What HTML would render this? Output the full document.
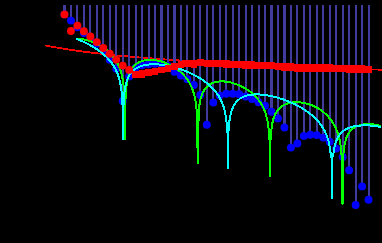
<!DOCTYPE html>
<html><head><meta charset="utf-8"><title>plot</title><style>html,body{margin:0;padding:0;background:#000;font-family:"Liberation Sans",sans-serif;}svg{display:block}</style></head><body><svg width="382" height="243" viewBox="0 0 382 243" shape-rendering="crispEdges">
<rect width="382" height="243" fill="#000"/>
<polyline fill="none" stroke="#ff0000" stroke-width="1.8" points="44.80,45.30 46.80,45.71 48.80,46.12 50.80,46.50 52.80,46.88 54.80,47.25 56.80,47.61 58.80,47.96 60.80,48.30 62.80,48.63 64.80,48.95 66.80,49.26 68.80,49.57 70.80,49.87 72.80,50.17 74.80,50.45 76.80,50.74 78.80,51.01 80.80,51.28 82.80,51.55 84.80,51.81 86.80,52.06 88.80,52.31 90.80,52.55 92.80,52.79 94.80,53.03 96.80,53.26 98.80,53.49 100.80,53.71 102.80,53.94 104.80,54.15 106.80,54.37 108.80,54.58 110.80,54.78 112.80,54.99 114.80,55.19 116.80,55.38 118.80,55.58 120.80,55.77 122.80,55.96 124.80,56.14 126.80,56.33 128.80,56.51 130.80,56.69 132.80,56.86 134.80,57.04 136.80,57.21 138.80,57.38 140.80,57.55 142.80,57.71 144.80,57.87 146.80,58.04 148.80,58.19 150.80,58.35 152.80,58.51 154.80,58.66 156.80,58.81 158.80,58.96 160.80,59.11 162.80,59.26 164.80,59.40 166.80,59.55 168.80,59.69 170.80,59.83 172.80,59.97 174.80,60.11 176.80,60.24 178.80,60.38 180.80,60.51 182.80,60.64 184.80,60.77 186.80,60.90 188.80,61.03 190.80,61.16 192.80,61.28 194.80,61.41 196.80,61.53 198.80,61.66 200.80,61.78 202.80,61.90 204.80,62.02 206.80,62.13 208.80,62.25 210.80,62.37 212.80,62.48 214.80,62.59 216.80,62.71 218.80,62.82 220.80,62.93 222.80,63.04 224.80,63.15 226.80,63.26 228.80,63.37 230.80,63.47 232.80,63.58 234.80,63.68 236.80,63.79 238.80,63.89 240.80,63.99 242.80,64.09 244.80,64.19 246.80,64.30 248.80,64.39 250.80,64.49 252.80,64.59 254.80,64.69 256.80,64.78 258.80,64.88 260.80,64.98 262.80,65.07 264.80,65.16 266.80,65.26 268.80,65.35 270.80,65.44 272.80,65.53 274.80,65.62 276.80,65.71 278.80,65.80 280.80,65.89 282.80,65.98 284.80,66.07 286.80,66.15 288.80,66.24 290.80,66.32 292.80,66.41 294.80,66.49 296.80,66.58 298.80,66.66 300.80,66.74 302.80,66.83 304.80,66.91 306.80,66.99 308.80,67.07 310.80,67.15 312.80,67.23 314.80,67.31 316.80,67.39 318.80,67.47 320.80,67.55 322.80,67.63 324.80,67.70 326.80,67.78 328.80,67.86 330.80,67.93 332.80,68.01 334.80,68.08 336.80,68.16 338.80,68.23 340.80,68.31 342.80,68.38 344.80,68.45 346.80,68.52 348.80,68.60 350.80,68.67 352.80,68.74 354.80,68.81 356.80,68.88 358.80,68.95 360.80,69.02 362.80,69.09 364.80,69.16 366.80,69.23 368.80,69.30 370.80,69.37 372.80,69.43 374.80,69.50 376.80,69.57 378.80,69.63 380.80,69.70 383.00,69.77"/>
<g fill="#423b9e">
<rect x="63" y="5" width="3" height="9"/>
<rect x="70" y="5" width="2" height="16"/>
<rect x="76" y="5" width="2" height="22"/>
<rect x="83" y="5" width="2" height="28"/>
<rect x="89" y="5" width="2" height="33"/>
<rect x="96" y="5" width="2" height="39"/>
<rect x="102" y="5" width="2" height="45"/>
<rect x="109" y="5" width="2" height="55"/>
<rect x="115" y="5" width="2" height="64"/>
<rect x="122" y="5" width="2" height="96"/>
<rect x="128" y="5" width="2" height="71"/>
<rect x="135" y="5" width="2" height="63"/>
<rect x="141" y="5" width="2" height="60"/>
<rect x="148" y="5" width="2" height="59"/>
<rect x="154" y="5" width="2" height="59"/>
<rect x="160" y="5" width="3" height="59"/>
<rect x="167" y="5" width="2" height="61"/>
<rect x="173" y="5" width="3" height="67"/>
<rect x="180" y="5" width="2" height="71"/>
<rect x="186" y="5" width="2" height="74"/>
<rect x="193" y="5" width="2" height="80"/>
<rect x="199" y="5" width="2" height="90"/>
<rect x="206" y="5" width="2" height="120"/>
<rect x="212" y="5" width="2" height="97"/>
<rect x="219" y="5" width="2" height="91"/>
<rect x="225" y="5" width="2" height="89"/>
<rect x="232" y="5" width="2" height="89"/>
<rect x="238" y="5" width="2" height="89"/>
<rect x="245" y="5" width="2" height="91"/>
<rect x="251" y="5" width="2" height="94"/>
<rect x="258" y="5" width="2" height="97"/>
<rect x="264" y="5" width="2" height="101"/>
<rect x="270" y="5" width="3" height="107"/>
<rect x="277" y="5" width="2" height="113"/>
<rect x="283" y="5" width="3" height="123"/>
<rect x="290" y="5" width="2" height="143"/>
<rect x="296" y="5" width="2" height="139"/>
<rect x="303" y="5" width="2" height="131"/>
<rect x="309" y="5" width="2" height="130"/>
<rect x="316" y="5" width="2" height="130"/>
<rect x="322" y="5" width="2" height="133"/>
<rect x="329" y="5" width="2" height="137"/>
<rect x="335" y="5" width="2" height="144"/>
<rect x="342" y="5" width="2" height="152"/>
<rect x="348" y="5" width="2" height="165"/>
<rect x="355" y="5" width="2" height="200"/>
<rect x="361" y="5" width="2" height="181"/>
<rect x="368" y="5" width="2" height="195"/>
</g>
<g fill="#0000ff" shape-rendering="geometricPrecision">
<circle cx="64.47" cy="14.40" r="3.95"/>
<circle cx="70.94" cy="20.60" r="3.95"/>
<circle cx="77.41" cy="27.20" r="3.95"/>
<circle cx="83.88" cy="33.00" r="3.95"/>
<circle cx="90.35" cy="38.20" r="3.95"/>
<circle cx="96.82" cy="43.80" r="3.95"/>
<circle cx="103.29" cy="50.20" r="3.95"/>
<circle cx="109.76" cy="59.70" r="3.95"/>
<circle cx="116.23" cy="68.80" r="3.95"/>
<circle cx="122.70" cy="100.90" r="3.95"/>
<circle cx="129.17" cy="76.50" r="3.95"/>
<circle cx="135.64" cy="67.80" r="3.95"/>
<circle cx="142.11" cy="65.20" r="3.95"/>
<circle cx="148.58" cy="64.20" r="3.95"/>
<circle cx="155.05" cy="63.80" r="3.95"/>
<circle cx="161.52" cy="64.30" r="3.95"/>
<circle cx="167.99" cy="66.00" r="3.95"/>
<circle cx="174.46" cy="71.70" r="3.95"/>
<circle cx="180.93" cy="75.50" r="3.95"/>
<circle cx="187.40" cy="79.30" r="3.95"/>
<circle cx="193.87" cy="84.90" r="3.95"/>
<circle cx="200.34" cy="95.00" r="3.95"/>
<circle cx="206.81" cy="124.80" r="3.95"/>
<circle cx="213.28" cy="102.50" r="3.95"/>
<circle cx="219.75" cy="95.60" r="3.95"/>
<circle cx="226.22" cy="93.70" r="3.95"/>
<circle cx="232.69" cy="93.70" r="3.95"/>
<circle cx="239.16" cy="94.30" r="3.95"/>
<circle cx="245.63" cy="96.50" r="3.95"/>
<circle cx="252.10" cy="99.00" r="3.95"/>
<circle cx="258.57" cy="102.30" r="3.95"/>
<circle cx="265.04" cy="105.70" r="3.95"/>
<circle cx="271.51" cy="111.80" r="3.95"/>
<circle cx="277.98" cy="118.40" r="3.95"/>
<circle cx="284.45" cy="127.50" r="3.95"/>
<circle cx="290.92" cy="147.60" r="3.95"/>
<circle cx="297.39" cy="143.50" r="3.95"/>
<circle cx="303.86" cy="135.90" r="3.95"/>
<circle cx="310.33" cy="134.70" r="3.95"/>
<circle cx="316.80" cy="135.10" r="3.95"/>
<circle cx="323.27" cy="137.60" r="3.95"/>
<circle cx="329.74" cy="141.80" r="3.95"/>
<circle cx="336.21" cy="148.60" r="3.95"/>
<circle cx="342.68" cy="157.00" r="3.95"/>
<circle cx="349.15" cy="170.30" r="3.95"/>
<circle cx="355.62" cy="205.00" r="3.95"/>
<circle cx="362.09" cy="186.40" r="3.95"/>
<circle cx="368.56" cy="199.75" r="3.95"/>
</g>
<polyline fill="none" stroke="#00ff00" stroke-width="2" stroke-linejoin="round" points="76.00,38.97 76.25,38.96 76.50,38.95 76.75,38.95 77.00,38.94 77.25,38.94 77.50,38.94 77.75,38.94 78.00,38.94 78.25,38.95 78.50,38.96 78.75,38.97 79.00,38.98 79.25,38.99 79.50,39.00 79.75,39.02 80.00,39.04 80.25,39.06 80.50,39.08 80.75,39.10 81.00,39.13 81.25,39.15 81.50,39.18 81.75,39.21 82.00,39.24 82.25,39.27 82.50,39.30 82.75,39.34 83.00,39.38 83.25,39.42 83.50,39.46 83.75,39.50 84.00,39.54 84.25,39.59 84.50,39.63 84.75,39.68 85.00,39.73 85.25,39.78 85.50,39.83 85.75,39.89 86.00,39.94 86.25,40.00 86.50,40.06 86.75,40.11 87.00,40.18 87.25,40.24 87.50,40.30 87.75,40.37 88.00,40.43 88.25,40.50 88.50,40.57 88.75,40.64 89.00,40.72 89.25,40.79 89.50,40.87 89.75,40.94 90.00,41.02 90.25,41.10 90.50,41.18 90.75,41.27 91.00,41.35 91.25,41.44 91.50,41.53 91.75,41.61 92.00,41.70 92.25,41.80 92.50,41.89 92.75,41.98 93.00,42.08 93.25,42.18 93.50,42.28 93.75,42.38 94.00,42.48 94.25,42.59 94.50,42.69 94.75,42.80 95.00,42.91 95.25,43.02 95.50,43.13 95.75,43.24 96.00,43.36 96.25,43.47 96.50,43.59 96.75,43.71 97.00,43.83 97.25,43.96 97.50,44.08 97.75,44.21 98.00,44.34 98.25,44.47 98.50,44.60 98.75,44.73 99.00,44.87 99.25,45.01 99.50,45.14 99.75,45.29 100.00,45.43 100.25,45.58 100.50,45.73 100.75,45.88 101.00,46.03 101.25,46.19 101.50,46.34 101.75,46.50 102.00,46.67 102.25,46.83 102.50,46.99 102.75,47.16 103.00,47.33 103.25,47.51 103.50,47.68 103.75,47.86 104.00,48.04 104.25,48.22 104.50,48.40 104.75,48.59 105.00,48.78 105.25,48.97 105.50,49.16 105.75,49.36 106.00,49.56 106.25,49.76 106.50,49.96 106.75,50.17 107.00,50.38 107.25,50.60 107.50,50.81 107.75,51.03 108.00,51.25 108.25,51.48 108.50,51.71 108.75,51.94 109.00,52.18 109.25,52.42 109.50,52.66 109.75,52.91 110.00,53.16 110.25,53.41 110.50,53.67 110.75,53.94 111.00,54.21 111.25,54.48 111.50,54.75 111.75,55.04 112.00,55.32 112.25,55.62 112.50,55.91 112.75,56.22 113.00,56.52 113.25,56.84 113.50,57.16 113.75,57.49 114.00,57.82 114.25,58.16 114.50,58.51 114.75,58.86 115.00,59.23 115.25,59.60 115.50,59.98 115.75,60.37 116.00,60.77 116.25,61.18 116.50,61.60 116.75,62.03 117.00,62.47 117.25,62.93 117.50,63.40 117.75,63.88 118.00,64.38 118.25,64.90 118.50,65.43 118.75,65.99 119.00,66.56 119.25,67.15 119.50,67.77 119.75,68.42 120.00,69.09 120.25,69.80 120.50,70.54 120.75,71.32 121.00,72.15 121.25,73.02 121.50,73.95 121.75,74.95 122.00,76.01 122.25,77.17 122.50,78.43 122.75,79.82 123.00,81.36 123.25,83.10 123.50,85.10 123.75,87.45 124.00,90.31 124.25,93.98 124.50,99.13 125.00,139.50 125.50,99.41 125.75,94.42 126.00,90.89 126.25,88.17 126.50,85.97 126.75,84.11 127.00,82.52 127.25,81.12 127.50,79.87 127.75,78.76 128.00,77.74 128.25,76.82 128.50,75.97 128.75,75.18 129.00,74.45 129.25,73.77 129.50,73.14 129.75,72.54 130.00,71.98 130.25,71.44 130.50,70.94 130.75,70.47 131.00,70.02 131.25,69.59 131.50,69.18 131.75,68.79 132.00,68.42 132.25,68.06 132.50,67.72 132.75,67.40 133.00,67.08 133.25,66.78 133.50,66.50 133.75,66.22 134.00,65.96 134.25,65.70 134.50,65.45 134.75,65.22 135.00,64.99 135.25,64.77 135.50,64.56 135.75,64.36 136.00,64.16 136.25,63.97 136.50,63.79 136.75,63.61 137.00,63.44 137.25,63.28 137.50,63.12 137.75,62.96 138.00,62.82 138.25,62.67 138.50,62.54 138.75,62.40 139.00,62.27 139.25,62.15 139.50,62.03 139.75,61.92 140.00,61.80 140.25,61.70 140.50,61.59 140.75,61.50 141.00,61.40 141.25,61.31 141.50,61.22 141.75,61.13 142.00,61.05 142.25,60.97 142.50,60.90 142.75,60.83 143.00,60.76 143.25,60.69 143.50,60.63 143.75,60.57 144.00,60.51 144.25,60.45 144.50,60.40 144.75,60.35 145.00,60.30 145.25,60.26 145.50,60.22 145.75,60.18 146.00,60.14 146.25,60.10 146.50,60.07 146.75,60.04 147.00,60.01 147.25,59.99 147.50,59.96 147.75,59.94 148.00,59.92 148.25,59.90 148.50,59.89 148.75,59.87 149.00,59.86 149.25,59.85 149.50,59.85 149.75,59.84 150.00,59.84 150.25,59.83 150.50,59.83 150.75,59.84 151.00,59.84 151.25,59.85 151.50,59.85 151.75,59.86 152.00,59.87 152.25,59.88 152.50,59.90 152.75,59.91 153.00,59.93 153.25,59.95 153.50,59.97 153.75,59.99 154.00,60.02 154.25,60.04 154.50,60.07 154.75,60.10 155.00,60.13 155.25,60.16 155.50,60.20 155.75,60.23 156.00,60.27 156.25,60.31 156.50,60.35 156.75,60.39 157.00,60.43 157.25,60.48 157.50,60.52 157.75,60.57 158.00,60.62 158.25,60.67 158.50,60.72 158.75,60.77 159.00,60.83 159.25,60.88 159.50,60.94 159.75,61.00 160.00,61.06 160.25,61.13 160.50,61.20 160.75,61.27 161.00,61.34 161.25,61.41 161.50,61.48 161.75,61.56 162.00,61.63 162.25,61.71 162.50,61.79 162.75,61.87 163.00,61.96 163.25,62.04 163.50,62.12 163.75,62.21 164.00,62.30 164.25,62.39 164.50,62.48 164.75,62.57 165.00,62.67 165.25,62.76 165.50,62.86 165.75,62.96 166.00,63.06 166.25,63.16 166.50,63.27 166.75,63.37 167.00,63.48 167.25,63.59 167.50,63.70 167.75,63.81 168.00,63.92 168.25,64.03 168.50,64.15 168.75,64.27 169.00,64.39 169.25,64.51 169.50,64.63 169.75,64.75 170.00,64.88 170.25,65.01 170.50,65.14 170.75,65.27 171.00,65.40 171.25,65.53 171.50,65.67 171.75,65.81 172.00,65.95 172.25,66.09 172.50,66.23 172.75,66.38 173.00,66.52 173.25,66.67 173.50,66.82 173.75,66.98 174.00,67.13 174.25,67.29 174.50,67.45 174.75,67.61 175.00,67.77 175.25,67.94 175.50,68.10 175.75,68.27 176.00,68.44 176.25,68.62 176.50,68.79 176.75,68.97 177.00,69.15 177.25,69.34 177.50,69.52 177.75,69.71 178.00,69.90 178.25,70.09 178.50,70.29 178.75,70.49 179.00,70.69 179.25,70.89 179.50,71.10 179.75,71.31 180.00,71.52 180.25,71.74 180.50,71.96 180.75,72.18 181.00,72.41 181.25,72.64 181.50,72.87 181.75,73.10 182.00,73.34 182.25,73.59 182.50,73.83 182.75,74.08 183.00,74.34 183.25,74.60 183.50,74.86 183.75,75.13 184.00,75.40 184.25,75.68 184.50,75.96 184.75,76.24 185.00,76.54 185.25,76.83 185.50,77.14 185.75,77.44 186.00,77.76 186.25,78.08 186.50,78.41 186.75,78.74 187.00,79.08 187.25,79.43 187.50,79.79 187.75,80.15 188.00,80.52 188.25,80.90 188.50,81.29 188.75,81.69 189.00,82.10 189.25,82.53 189.50,82.96 189.75,83.40 190.00,83.86 190.25,84.33 190.50,84.82 190.75,85.32 191.00,85.84 191.25,86.37 191.50,86.93 191.75,87.51 192.00,88.10 192.25,88.73 192.50,89.38 192.75,90.06 193.00,90.77 193.25,91.52 193.50,92.31 193.75,93.14 194.00,94.02 194.25,94.96 194.50,95.97 194.75,97.06 195.00,98.23 195.25,99.51 195.50,100.93 195.75,102.51 196.00,104.29 196.25,106.35 196.50,108.79 196.75,111.78 197.55,150.00 197.55,163.50 197.85,163.50 197.85,150.00 198.75,111.05 199.00,108.45 199.25,106.33 199.50,104.54 199.75,102.99 200.00,101.63 200.25,100.42 200.50,99.34 200.75,98.35 201.00,97.45 201.25,96.62 201.50,95.86 201.75,95.15 202.00,94.48 202.25,93.86 202.50,93.28 202.75,92.74 203.00,92.22 203.25,91.73 203.50,91.27 203.75,90.83 204.00,90.42 204.25,90.02 204.50,89.64 204.75,89.28 205.00,88.94 205.25,88.61 205.50,88.30 205.75,88.00 206.00,87.71 206.25,87.43 206.50,87.17 206.75,86.91 207.00,86.67 207.25,86.43 207.50,86.21 207.75,85.99 208.00,85.78 208.25,85.58 208.50,85.38 208.75,85.20 209.00,85.02 209.25,84.85 209.50,84.68 209.75,84.52 210.00,84.36 210.25,84.22 210.50,84.07 210.75,83.93 211.00,83.80 211.25,83.67 211.50,83.55 211.75,83.43 212.00,83.32 212.25,83.21 212.50,83.10 212.75,83.00 213.00,82.90 213.25,82.81 213.50,82.72 213.75,82.63 214.00,82.55 214.25,82.47 214.50,82.40 214.75,82.33 215.00,82.26 215.25,82.19 215.50,82.13 215.75,82.07 216.00,82.01 216.25,81.96 216.50,81.91 216.75,81.86 217.00,81.81 217.25,81.77 217.50,81.73 217.75,81.69 218.00,81.66 218.25,81.62 218.50,81.59 218.75,81.57 219.00,81.54 219.25,81.52 219.50,81.50 219.75,81.48 220.00,81.46 220.25,81.45 220.50,81.43 220.75,81.42 221.00,81.42 221.25,81.41 221.50,81.41 221.75,81.40 222.00,81.40 222.25,81.41 222.50,81.41 222.75,81.42 223.00,81.42 223.25,81.43 223.50,81.44 223.75,81.46 224.00,81.47 224.25,81.49 224.50,81.51 224.75,81.53 225.00,81.55 225.25,81.57 225.50,81.60 225.75,81.63 226.00,81.65 226.25,81.68 226.50,81.72 226.75,81.75 227.00,81.79 227.25,81.82 227.50,81.86 227.75,81.90 228.00,81.94 228.25,81.99 228.50,82.03 228.75,82.08 229.00,82.13 229.25,82.18 229.50,82.23 229.75,82.28 230.00,82.33 230.25,82.39 230.50,82.45 230.75,82.50 231.00,82.56 231.25,82.63 231.50,82.69 231.75,82.75 232.00,82.82 232.25,82.89 232.50,82.96 232.75,83.03 233.00,83.10 233.25,83.17 233.50,83.25 233.75,83.32 234.00,83.40 234.25,83.48 234.50,83.56 234.75,83.65 235.00,83.73 235.25,83.81 235.50,83.90 235.75,83.99 236.00,84.08 236.25,84.17 236.50,84.26 236.75,84.36 237.00,84.45 237.25,84.55 237.50,84.65 237.75,84.75 238.00,84.85 238.25,84.96 238.50,85.06 238.75,85.17 239.00,85.27 239.25,85.38 239.50,85.49 239.75,85.61 240.00,85.72 240.25,85.83 240.50,85.95 240.75,86.06 241.00,86.17 241.25,86.29 241.50,86.41 241.75,86.53 242.00,86.65 242.25,86.78 242.50,86.90 242.75,87.03 243.00,87.16 243.25,87.29 243.50,87.42 243.75,87.56 244.00,87.69 244.25,87.83 244.50,87.97 244.75,88.11 245.00,88.26 245.25,88.40 245.50,88.55 245.75,88.70 246.00,88.85 246.25,89.00 246.50,89.16 246.75,89.32 247.00,89.47 247.25,89.64 247.50,89.80 247.75,89.96 248.00,90.13 248.25,90.30 248.50,90.47 248.75,90.65 249.00,90.83 249.25,91.01 249.50,91.19 249.75,91.37 250.00,91.56 250.25,91.75 250.50,91.94 250.75,92.13 251.00,92.33 251.25,92.53 251.50,92.73 251.75,92.94 252.00,93.14 252.25,93.36 252.50,93.57 252.75,93.79 253.00,94.01 253.25,94.23 253.50,94.46 253.75,94.69 254.00,94.92 254.25,95.16 254.50,95.40 254.75,95.65 255.00,95.89 255.25,96.15 255.50,96.40 255.75,96.67 256.00,96.93 256.25,97.20 256.50,97.48 256.75,97.76 257.00,98.04 257.25,98.33 257.50,98.63 257.75,98.93 258.00,99.23 258.25,99.55 258.50,99.86 258.75,100.19 259.00,100.52 259.25,100.86 259.50,101.20 259.75,101.56 260.00,101.92 260.25,102.29 260.50,102.67 260.75,103.06 261.00,103.45 261.25,103.86 261.50,104.28 261.75,104.71 262.00,105.15 262.25,105.60 262.50,106.07 262.75,106.55 263.00,107.05 263.25,107.56 263.50,108.10 263.75,108.65 264.00,109.22 264.25,109.81 264.50,110.43 264.75,111.07 265.00,111.75 265.25,112.45 265.50,113.19 265.75,113.97 266.00,114.79 266.25,115.66 266.50,116.59 266.75,117.58 267.00,118.65 267.25,119.81 267.50,121.07 267.75,122.45 268.00,123.99 268.25,125.73 268.50,127.73 269.85,144.00 269.85,176.00 270.15,176.00 270.15,144.00 271.75,126.77 272.00,125.18 272.25,123.78 272.50,122.54 272.75,121.43 273.00,120.42 273.25,119.50 273.50,118.65 273.75,117.87 274.00,117.14 274.25,116.47 274.50,115.83 274.75,115.24 275.00,114.68 275.25,114.15 275.50,113.66 275.75,113.18 276.00,112.74 276.25,112.31 276.50,111.91 276.75,111.52 277.00,111.15 277.25,110.80 277.50,110.46 277.75,110.14 278.00,109.83 278.25,109.54 278.50,109.25 278.75,108.98 279.00,108.72 279.25,108.47 279.50,108.23 279.75,107.99 280.00,107.77 280.25,107.55 280.50,107.33 280.75,107.12 281.00,106.91 281.25,106.72 281.50,106.53 281.75,106.35 282.00,106.17 282.25,106.00 282.50,105.83 282.75,105.67 283.00,105.52 283.25,105.37 283.50,105.23 283.75,105.09 284.00,104.95 284.25,104.82 284.50,104.70 284.75,104.58 285.00,104.46 285.25,104.34 285.50,104.24 285.75,104.13 286.00,104.03 286.25,103.93 286.50,103.83 286.75,103.74 287.00,103.66 287.25,103.57 287.50,103.49 287.75,103.41 288.00,103.33 288.25,103.26 288.50,103.19 288.75,103.13 289.00,103.06 289.25,103.00 289.50,102.94 289.75,102.89 290.00,102.83 290.25,102.78 290.50,102.73 290.75,102.69 291.00,102.64 291.25,102.60 291.50,102.56 291.75,102.53 292.00,102.49 292.25,102.46 292.50,102.43 292.75,102.40 293.00,102.38 293.25,102.35 293.50,102.33 293.75,102.31 294.00,102.29 294.25,102.28 294.50,102.26 294.75,102.25 295.00,102.24 295.25,102.24 295.50,102.23 295.75,102.22 296.00,102.22 296.25,102.22 296.50,102.22 296.75,102.23 297.00,102.23 297.25,102.24 297.50,102.25 297.75,102.26 298.00,102.27 298.25,102.28 298.50,102.29 298.75,102.31 299.00,102.33 299.25,102.35 299.50,102.37 299.75,102.39 300.00,102.42 300.25,102.44 300.50,102.47 300.75,102.50 301.00,102.53 301.25,102.56 301.50,102.60 301.75,102.63 302.00,102.67 302.25,102.71 302.50,102.75 302.75,102.79 303.00,102.83 303.25,102.88 303.50,102.92 303.75,102.97 304.00,103.02 304.25,103.07 304.50,103.12 304.75,103.18 305.00,103.23 305.25,103.29 305.50,103.35 305.75,103.41 306.00,103.47 306.25,103.53 306.50,103.59 306.75,103.66 307.00,103.72 307.25,103.79 307.50,103.86 307.75,103.93 308.00,104.01 308.25,104.08 308.50,104.16 308.75,104.23 309.00,104.31 309.25,104.39 309.50,104.47 309.75,104.56 310.00,104.64 310.25,104.73 310.50,104.81 310.75,104.90 311.00,104.99 311.25,105.09 311.50,105.18 311.75,105.28 312.00,105.37 312.25,105.47 312.50,105.57 312.75,105.67 313.00,105.78 313.25,105.88 313.50,105.99 313.75,106.09 314.00,106.20 314.25,106.32 314.50,106.43 314.75,106.54 315.00,106.66 315.25,106.78 315.50,106.90 315.75,107.02 316.00,107.14 316.25,107.27 316.50,107.39 316.75,107.52 317.00,107.65 317.25,107.79 317.50,107.92 317.75,108.06 318.00,108.19 318.25,108.33 318.50,108.48 318.75,108.62 319.00,108.77 319.25,108.91 319.50,109.06 319.75,109.22 320.00,109.37 320.25,109.55 320.50,109.73 320.75,109.91 321.00,110.10 321.25,110.29 321.50,110.48 321.75,110.67 322.00,110.86 322.25,111.06 322.50,111.26 322.75,111.46 323.00,111.67 323.25,111.87 323.50,112.08 323.75,112.30 324.00,112.51 324.25,112.73 324.50,112.95 324.75,113.18 325.00,113.41 325.25,113.64 325.50,113.87 325.75,114.11 326.00,114.35 326.25,114.59 326.50,114.84 326.75,115.09 327.00,115.35 327.25,115.61 327.50,115.87 327.75,116.14 328.00,116.41 328.25,116.68 328.50,116.96 328.75,117.25 329.00,117.53 329.25,117.83 329.50,118.13 329.75,118.43 330.00,118.74 330.25,119.06 330.50,119.38 330.75,119.70 331.00,120.04 331.25,120.38 331.50,120.72 331.75,121.08 332.00,121.44 332.25,121.81 332.50,122.18 332.75,122.57 333.00,122.96 333.25,123.37 333.50,123.78 333.75,124.21 334.00,124.64 334.25,125.09 334.50,125.55 334.75,126.02 335.00,126.50 335.25,127.00 335.50,127.52 335.75,128.05 336.00,128.60 336.25,129.17 336.50,129.77 336.75,130.38 337.00,131.02 337.25,131.69 337.50,132.39 337.75,133.12 338.00,133.88 338.25,134.69 338.50,135.55 338.75,136.45 339.00,137.42 339.25,138.45 339.50,139.56 339.75,140.77 340.00,142.09 340.25,143.54 340.50,145.17 340.75,147.01 341.00,149.15 341.25,151.69 341.50,154.84 341.75,158.99 342.00,165.14 341.65,166.00 341.65,203.50 343.15,203.50 343.15,166.00 343.00,160.42 343.25,156.15 343.50,153.01 343.75,150.54 344.00,148.51 344.25,146.78 344.50,145.28 344.75,143.97 345.00,142.79 345.25,141.74 345.50,140.78 345.75,139.90 346.00,139.09 346.25,138.34 346.50,137.65 346.75,137.00 347.00,136.40 347.25,135.83 347.50,135.30 347.75,134.80 348.00,134.32 348.25,133.87 348.50,133.45 348.75,133.04 349.00,132.66 349.25,132.29 349.50,131.94 349.75,131.61 350.00,131.29 350.25,130.98 350.50,130.69 350.75,130.42 351.00,130.15 351.25,129.89 351.50,129.65 351.75,129.41 352.00,129.19 352.25,128.97 352.50,128.76 352.75,128.56 353.00,128.37 353.25,128.18 353.50,128.01 353.75,127.83 354.00,127.67 354.25,127.51 354.50,127.36 354.75,127.21 355.00,127.07 355.25,126.94 355.50,126.81 355.75,126.68 356.00,126.56 356.25,126.45 356.50,126.34 356.75,126.23 357.00,126.13 357.25,126.03 357.50,125.94 357.75,125.85 358.00,125.77 358.25,125.68 358.50,125.61 358.75,125.53 359.00,125.46 359.25,125.39 359.50,125.33 359.75,125.27 360.00,125.21 360.25,125.13 360.50,125.06 360.75,124.99 361.00,124.93 361.25,124.86 361.50,124.80 361.75,124.74 362.00,124.69 362.25,124.63 362.50,124.58 362.75,124.54 363.00,124.49 363.25,124.45 363.50,124.41 363.75,124.37 364.00,124.33 364.25,124.30 364.50,124.27 364.75,124.24 365.00,124.21 365.25,124.19 365.50,124.16 365.75,124.14 366.00,124.12 366.25,124.11 366.50,124.09 366.75,124.08 367.00,124.07 367.25,124.06 367.50,124.05 367.75,124.05 368.00,124.04 368.25,124.04 368.50,124.04 368.75,124.05 369.00,124.05 369.25,124.05 369.50,124.06 369.75,124.07 370.00,124.08 370.25,124.09 370.50,124.11 370.75,124.12 371.00,124.14 371.25,124.16 371.50,124.18 371.75,124.20 372.00,124.23 372.25,124.25 372.50,124.28 372.75,124.31 373.00,124.34 373.25,124.37 373.50,124.41 373.75,124.44 374.00,124.48 374.25,124.52 374.50,124.56 374.75,124.60 375.00,124.64 375.25,124.68 375.50,124.73 375.75,124.78 376.00,124.83 376.25,124.88 376.50,124.93 376.75,124.98 377.00,125.03 377.25,125.09 377.50,125.15 377.75,125.21 378.00,125.27 378.25,125.33 378.50,125.39 378.75,125.46 379.00,125.52 379.25,125.59 379.50,125.66 379.75,125.73 380.00,125.80 380.25,125.88 380.50,125.95 380.75,126.03 381.00,126.11 381.25,126.19"/>
<polyline fill="none" stroke="#00ffff" stroke-width="2" stroke-linejoin="round" points="76.00,38.76 76.25,38.85 76.50,38.94 76.75,39.04 77.00,39.13 77.25,39.23 77.50,39.32 77.75,39.42 78.00,39.52 78.25,39.62 78.50,39.72 78.75,39.82 79.00,39.92 79.25,40.02 79.50,40.12 79.75,40.23 80.00,40.33 80.25,40.43 80.50,40.54 80.75,40.64 81.00,40.75 81.25,40.86 81.50,40.97 81.75,41.08 82.00,41.19 82.25,41.30 82.50,41.41 82.75,41.52 83.00,41.63 83.25,41.75 83.50,41.86 83.75,41.98 84.00,42.10 84.25,42.21 84.50,42.33 84.75,42.45 85.00,42.57 85.25,42.69 85.50,42.81 85.75,42.93 86.00,43.06 86.25,43.18 86.50,43.31 86.75,43.43 87.00,43.56 87.25,43.69 87.50,43.82 87.75,43.94 88.00,44.08 88.25,44.21 88.50,44.34 88.75,44.47 89.00,44.61 89.25,44.74 89.50,44.88 89.75,45.01 90.00,45.15 90.25,45.29 90.50,45.42 90.75,45.56 91.00,45.70 91.25,45.84 91.50,45.98 91.75,46.12 92.00,46.26 92.25,46.40 92.50,46.55 92.75,46.69 93.00,46.84 93.25,46.99 93.50,47.13 93.75,47.28 94.00,47.44 94.25,47.59 94.50,47.74 94.75,47.90 95.00,48.05 95.25,48.21 95.50,48.37 95.75,48.53 96.00,48.69 96.25,48.85 96.50,49.02 96.75,49.18 97.00,49.35 97.25,49.52 97.50,49.68 97.75,49.86 98.00,50.03 98.25,50.20 98.50,50.38 98.75,50.55 99.00,50.73 99.25,50.91 99.50,51.10 99.75,51.28 100.00,51.46 100.25,51.65 100.50,51.85 100.75,52.04 101.00,52.23 101.25,52.43 101.50,52.63 101.75,52.83 102.00,53.03 102.25,53.24 102.50,53.44 102.75,53.65 103.00,53.86 103.25,54.08 103.50,54.29 103.75,54.51 104.00,54.73 104.25,54.95 104.50,55.18 104.75,55.41 105.00,55.64 105.25,55.87 105.50,56.10 105.75,56.34 106.00,56.58 106.25,56.83 106.50,57.07 106.75,57.32 107.00,57.58 107.25,57.83 107.50,58.10 107.75,58.36 108.00,58.63 108.25,58.90 108.50,59.17 108.75,59.45 109.00,59.73 109.25,60.02 109.50,60.31 109.75,60.61 110.00,60.91 110.25,61.21 110.50,61.53 110.75,61.84 111.00,62.16 111.25,62.49 111.50,62.82 111.75,63.16 112.00,63.51 112.25,63.86 112.50,64.22 112.75,64.58 113.00,64.96 113.25,65.34 113.50,65.73 113.75,66.13 114.00,66.54 114.25,66.96 114.50,67.39 114.75,67.83 115.00,68.28 115.25,68.74 115.50,69.22 115.75,69.71 116.00,70.22 116.25,70.74 116.50,71.28 116.75,71.84 117.00,72.42 117.25,73.03 117.50,73.65 117.75,74.30 118.00,74.98 118.25,75.69 118.50,76.44 118.75,77.23 119.00,78.05 119.25,78.93 119.50,79.87 119.75,80.87 120.00,81.94 120.25,83.10 120.50,84.36 120.75,85.75 121.00,87.30 121.25,89.04 121.50,91.04 121.75,93.39 122.00,96.26 122.25,99.93 122.50,105.07 123.00,139.50 123.50,105.37 123.75,100.38 124.00,96.86 124.25,94.14 124.50,91.94 124.75,90.09 125.00,88.50 125.25,87.10 125.50,85.85 125.75,84.73 126.00,83.72 126.25,82.79 126.50,81.94 126.75,81.15 127.00,80.42 127.25,79.74 127.50,79.10 127.75,78.50 128.00,77.93 128.25,77.40 128.50,76.89 128.75,76.41 129.00,75.96 129.25,75.52 129.50,75.11 129.75,74.71 130.00,74.34 130.25,73.98 130.50,73.63 130.75,73.30 131.00,72.98 131.25,72.67 131.50,72.38 131.75,72.09 132.00,71.82 132.25,71.56 132.50,71.30 132.75,71.06 133.00,70.82 133.25,70.60 133.50,70.37 133.75,70.16 134.00,69.95 134.25,69.76 134.50,69.56 134.75,69.37 135.00,69.19 135.25,69.02 135.50,68.85 135.75,68.68 136.00,68.52 136.25,68.37 136.50,68.22 136.75,68.07 137.00,67.93 137.25,67.79 137.50,67.66 137.75,67.53 138.00,67.41 138.25,67.29 138.50,67.17 138.75,67.05 139.00,66.94 139.25,66.83 139.50,66.73 139.75,66.63 140.00,66.53 140.25,66.43 140.50,66.34 140.75,66.25 141.00,66.17 141.25,66.08 141.50,66.00 141.75,65.92 142.00,65.84 142.25,65.77 142.50,65.70 142.75,65.63 143.00,65.56 143.25,65.49 143.50,65.43 143.75,65.37 144.00,65.31 144.25,65.25 144.50,65.20 144.75,65.15 145.00,65.10 145.25,65.05 145.50,65.00 145.75,64.95 146.00,64.91 146.25,64.87 146.50,64.83 146.75,64.79 147.00,64.75 147.25,64.72 147.50,64.68 147.75,64.65 148.00,64.62 148.25,64.59 148.50,64.56 148.75,64.54 149.00,64.51 149.25,64.49 149.50,64.47 149.75,64.45 150.00,64.43 150.25,64.41 150.50,64.39 150.75,64.38 151.00,64.36 151.25,64.35 151.50,64.34 151.75,64.33 152.00,64.32 152.25,64.31 152.50,64.31 152.75,64.30 153.00,64.30 153.25,64.29 153.50,64.29 153.75,64.29 154.00,64.29 154.25,64.29 154.50,64.29 154.75,64.30 155.00,64.30 155.25,64.31 155.50,64.31 155.75,64.32 156.00,64.33 156.25,64.34 156.50,64.35 156.75,64.36 157.00,64.37 157.25,64.39 157.50,64.40 157.75,64.42 158.00,64.43 158.25,64.45 158.50,64.47 158.75,64.49 159.00,64.51 159.25,64.53 159.50,64.55 159.75,64.58 160.00,64.60 160.25,64.62 160.50,64.65 160.75,64.68 161.00,64.70 161.25,64.73 161.50,64.76 161.75,64.79 162.00,64.82 162.25,64.86 162.50,64.89 162.75,64.92 163.00,64.96 163.25,64.99 163.50,65.03 163.75,65.06 164.00,65.10 164.25,65.14 164.50,65.18 164.75,65.22 165.00,65.26 165.25,65.30 165.50,65.34 165.75,65.39 166.00,65.43 166.25,65.47 166.50,65.52 166.75,65.56 167.00,65.61 167.25,65.66 167.50,65.71 167.75,65.76 168.00,65.81 168.25,65.86 168.50,65.91 168.75,65.96 169.00,66.01 169.25,66.07 169.50,66.12 169.75,66.17 170.00,66.23 170.25,66.29 170.50,66.34 170.75,66.40 171.00,66.46 171.25,66.52 171.50,66.58 171.75,66.64 172.00,66.70 172.25,66.76 172.50,66.82 172.75,66.89 173.00,66.95 173.25,67.02 173.50,67.08 173.75,67.15 174.00,67.22 174.25,67.28 174.50,67.35 174.75,67.42 175.00,67.49 175.25,67.56 175.50,67.63 175.75,67.70 176.00,67.78 176.25,67.85 176.50,67.92 176.75,68.00 177.00,68.07 177.25,68.15 177.50,68.23 177.75,68.30 178.00,68.38 178.25,68.46 178.50,68.54 178.75,68.62 179.00,68.70 179.25,68.78 179.50,68.86 179.75,68.95 180.00,69.03 180.25,69.12 180.50,69.20 180.75,69.29 181.00,69.37 181.25,69.46 181.50,69.55 181.75,69.64 182.00,69.73 182.25,69.82 182.50,69.91 182.75,70.00 183.00,70.09 183.25,70.19 183.50,70.28 183.75,70.37 184.00,70.47 184.25,70.57 184.50,70.66 184.75,70.76 185.00,70.86 185.25,70.96 185.50,71.06 185.75,71.16 186.00,71.26 186.25,71.36 186.50,71.47 186.75,71.57 187.00,71.67 187.25,71.78 187.50,71.89 187.75,71.99 188.00,72.10 188.25,72.21 188.50,72.32 188.75,72.43 189.00,72.54 189.25,72.65 189.50,72.77 189.75,72.88 190.00,72.99 190.25,73.11 190.50,73.23 190.75,73.34 191.00,73.46 191.25,73.58 191.50,73.70 191.75,73.82 192.00,73.94 192.25,74.06 192.50,74.19 192.75,74.31 193.00,74.44 193.25,74.56 193.50,74.69 193.75,74.82 194.00,74.95 194.25,75.08 194.50,75.21 194.75,75.34 195.00,75.47 195.25,75.61 195.50,75.74 195.75,75.88 196.00,76.01 196.25,76.15 196.50,76.29 196.75,76.43 197.00,76.57 197.25,76.71 197.50,76.86 197.75,77.00 198.00,77.15 198.25,77.29 198.50,77.44 198.75,77.59 199.00,77.74 199.25,77.89 199.50,78.05 199.75,78.20 200.00,78.36 200.25,78.51 200.50,78.67 200.75,78.82 201.00,78.98 201.25,79.14 201.50,79.30 201.75,79.47 202.00,79.63 202.25,79.80 202.50,79.97 202.75,80.13 203.00,80.30 203.25,80.48 203.50,80.65 203.75,80.82 204.00,81.00 204.25,81.18 204.50,81.36 204.75,81.54 205.00,81.72 205.25,81.91 205.50,82.09 205.75,82.28 206.00,82.47 206.25,82.66 206.50,82.86 206.75,83.06 207.00,83.25 207.25,83.45 207.50,83.66 207.75,83.86 208.00,84.07 208.25,84.28 208.50,84.49 208.75,84.70 209.00,84.92 209.25,85.13 209.50,85.35 209.75,85.58 210.00,85.80 210.25,86.03 210.50,86.26 210.75,86.50 211.00,86.73 211.25,86.97 211.50,87.22 211.75,87.46 212.00,87.71 212.25,87.97 212.50,88.22 212.75,88.48 213.00,88.74 213.25,89.01 213.50,89.28 213.75,89.56 214.00,89.84 214.25,90.12 214.50,90.41 214.75,90.70 215.00,91.00 215.25,91.30 215.50,91.61 215.75,91.92 216.00,92.24 216.25,92.56 216.50,92.89 216.75,93.23 217.00,93.57 217.25,93.92 217.50,94.28 217.75,94.64 218.00,95.01 218.25,95.39 218.50,95.78 218.75,96.18 219.00,96.59 219.25,97.01 219.50,97.43 219.75,97.87 220.00,98.32 220.25,98.79 220.50,99.27 220.75,99.76 221.00,100.27 221.25,100.79 221.50,101.33 221.75,101.90 222.00,102.48 222.25,103.08 222.50,103.71 222.75,104.37 223.00,105.06 223.25,105.78 223.50,106.53 223.75,107.33 224.00,108.17 224.25,109.07 224.50,110.02 224.75,111.04 225.00,112.14 225.25,113.34 225.50,114.64 225.75,116.09 226.00,117.70 226.25,119.53 227.75,136.00 227.75,168.00 228.05,168.00 228.05,136.00 229.50,120.72 229.75,118.98 230.00,117.47 230.25,116.13 230.50,114.94 230.75,113.87 231.00,112.89 231.25,111.99 231.50,111.16 231.75,110.40 232.00,109.68 232.25,109.02 232.50,108.39 232.75,107.81 233.00,107.25 233.25,106.73 233.50,106.23 233.75,105.76 234.00,105.31 234.25,104.89 234.50,104.48 234.75,104.09 235.00,103.72 235.25,103.36 235.50,103.02 235.75,102.69 236.00,102.38 236.25,102.08 236.50,101.79 236.75,101.51 237.00,101.24 237.25,100.98 237.50,100.72 237.75,100.48 238.00,100.25 238.25,100.02 238.50,99.80 238.75,99.59 239.00,99.39 239.25,99.19 239.50,99.00 239.75,98.81 240.00,98.63 240.25,98.47 240.50,98.31 240.75,98.15 241.00,98.00 241.25,97.86 241.50,97.72 241.75,97.58 242.00,97.45 242.25,97.32 242.50,97.20 242.75,97.08 243.00,96.97 243.25,96.86 243.50,96.75 243.75,96.64 244.00,96.54 244.25,96.44 244.50,96.35 244.75,96.26 245.00,96.17 245.25,96.08 245.50,96.00 245.75,95.92 246.00,95.84 246.25,95.77 246.50,95.69 246.75,95.62 247.00,95.56 247.25,95.49 247.50,95.43 247.75,95.37 248.00,95.31 248.25,95.26 248.50,95.20 248.75,95.15 249.00,95.10 249.25,95.05 249.50,95.01 249.75,94.96 250.00,94.92 250.25,94.88 250.50,94.84 250.75,94.81 251.00,94.77 251.25,94.74 251.50,94.71 251.75,94.68 252.00,94.65 252.25,94.63 252.50,94.60 252.75,94.58 253.00,94.56 253.25,94.54 253.50,94.52 253.75,94.50 254.00,94.48 254.25,94.47 254.50,94.46 254.75,94.45 255.00,94.44 255.25,94.43 255.50,94.42 255.75,94.41 256.00,94.41 256.25,94.40 256.50,94.40 256.75,94.40 257.00,94.40 257.25,94.40 257.50,94.41 257.75,94.41 258.00,94.41 258.25,94.42 258.50,94.43 258.75,94.43 259.00,94.44 259.25,94.45 259.50,94.47 259.75,94.48 260.00,94.49 260.25,94.51 260.50,94.52 260.75,94.54 261.00,94.56 261.25,94.58 261.50,94.60 261.75,94.62 262.00,94.64 262.25,94.66 262.50,94.68 262.75,94.71 263.00,94.73 263.25,94.76 263.50,94.79 263.75,94.82 264.00,94.85 264.25,94.88 264.50,94.91 264.75,94.94 265.00,94.97 265.25,95.01 265.50,95.04 265.75,95.08 266.00,95.11 266.25,95.15 266.50,95.19 266.75,95.23 267.00,95.27 267.25,95.31 267.50,95.35 267.75,95.39 268.00,95.43 268.25,95.48 268.50,95.52 268.75,95.57 269.00,95.61 269.25,95.66 269.50,95.71 269.75,95.76 270.00,95.80 270.25,95.85 270.50,95.91 270.75,95.96 271.00,96.01 271.25,96.06 271.50,96.12 271.75,96.17 272.00,96.23 272.25,96.28 272.50,96.34 272.75,96.40 273.00,96.46 273.25,96.52 273.50,96.58 273.75,96.64 274.00,96.70 274.25,96.76 274.50,96.82 274.75,96.89 275.00,96.95 275.25,97.02 275.50,97.08 275.75,97.15 276.00,97.22 276.25,97.28 276.50,97.35 276.75,97.42 277.00,97.49 277.25,97.56 277.50,97.63 277.75,97.71 278.00,97.78 278.25,97.85 278.50,97.93 278.75,98.00 279.00,98.08 279.25,98.16 279.50,98.23 279.75,98.31 280.00,98.39 280.25,98.47 280.50,98.55 280.75,98.63 281.00,98.71 281.25,98.79 281.50,98.87 281.75,98.95 282.00,99.03 282.25,99.12 282.50,99.20 282.75,99.29 283.00,99.37 283.25,99.46 283.50,99.54 283.75,99.63 284.00,99.72 284.25,99.81 284.50,99.90 284.75,99.99 285.00,100.08 285.25,100.17 285.50,100.27 285.75,100.36 286.00,100.46 286.25,100.55 286.50,100.65 286.75,100.74 287.00,100.84 287.25,100.94 287.50,101.04 287.75,101.14 288.00,101.24 288.25,101.34 288.50,101.44 288.75,101.54 289.00,101.65 289.25,101.75 289.50,101.85 289.75,101.96 290.00,102.07 290.25,102.17 290.50,102.28 290.75,102.39 291.00,102.50 291.25,102.61 291.50,102.72 291.75,102.83 292.00,102.95 292.25,103.06 292.50,103.17 292.75,103.29 293.00,103.41 293.25,103.52 293.50,103.64 293.75,103.76 294.00,103.88 294.25,104.00 294.50,104.12 294.75,104.24 295.00,104.36 295.25,104.49 295.50,104.61 295.75,104.74 296.00,104.87 296.25,104.99 296.50,105.12 296.75,105.25 297.00,105.38 297.25,105.51 297.50,105.64 297.75,105.78 298.00,105.91 298.25,106.05 298.50,106.18 298.75,106.32 299.00,106.46 299.25,106.60 299.50,106.74 299.75,106.88 300.00,107.02 300.25,107.16 300.50,107.31 300.75,107.45 301.00,107.60 301.25,107.74 301.50,107.89 301.75,108.04 302.00,108.19 302.25,108.35 302.50,108.50 302.75,108.65 303.00,108.81 303.25,108.96 303.50,109.12 303.75,109.28 304.00,109.44 304.25,109.60 304.50,109.77 304.75,109.93 305.00,110.10 305.25,110.26 305.50,110.43 305.75,110.60 306.00,110.77 306.25,110.94 306.50,111.12 306.75,111.29 307.00,111.47 307.25,111.65 307.50,111.83 307.75,112.01 308.00,112.19 308.25,112.38 308.50,112.56 308.75,112.75 309.00,112.94 309.25,113.13 309.50,113.33 309.75,113.52 310.00,113.72 310.25,113.92 310.50,114.12 310.75,114.32 311.00,114.53 311.25,114.73 311.50,114.94 311.75,115.15 312.00,115.37 312.25,115.58 312.50,115.80 312.75,116.02 313.00,116.24 313.25,116.46 313.50,116.69 313.75,116.92 314.00,117.15 314.25,117.39 314.50,117.63 314.75,117.87 315.00,118.11 315.25,118.36 315.50,118.61 315.75,118.86 316.00,119.11 316.25,119.37 316.50,119.63 316.75,119.90 317.00,120.17 317.25,120.44 317.50,120.72 317.75,121.00 318.00,121.29 318.25,121.57 318.50,121.87 318.75,122.17 319.00,122.47 319.25,122.78 319.50,123.09 319.75,123.41 320.00,123.73 320.25,124.05 320.50,124.38 320.75,124.71 321.00,125.06 321.25,125.40 321.50,125.76 321.75,126.12 322.00,126.49 322.25,126.87 322.50,127.25 322.75,127.65 323.00,128.05 323.25,128.46 323.50,128.89 323.75,129.32 324.00,129.77 324.25,130.23 324.50,130.70 324.75,131.19 325.00,131.69 325.25,132.21 325.50,132.75 325.75,133.30 326.00,133.88 326.25,134.47 326.50,135.09 326.75,135.74 327.00,136.41 327.25,137.12 327.50,137.86 327.75,138.64 328.00,139.47 328.25,140.34 328.50,141.27 328.75,142.26 329.00,143.33 329.25,144.49 329.50,145.75 329.75,147.13 330.00,148.67 330.25,150.41 330.50,152.40 330.75,154.75 331.00,157.61 331.85,158.00 331.85,198.00 332.15,198.00 332.15,158.00 333.25,155.45 333.50,153.25 333.75,151.39 334.00,149.80 334.25,148.40 334.50,147.15 334.75,146.03 335.00,145.02 335.25,144.09 335.50,143.24 335.75,142.45 336.00,141.72 336.25,141.03 336.50,140.39 336.75,139.79 337.00,139.22 337.25,138.69 337.50,138.18 337.75,137.70 338.00,137.25 338.25,136.81 338.50,136.40 338.75,136.00 339.00,135.63 339.25,135.26 339.50,134.92 339.75,134.59 340.00,134.27 340.25,133.96 340.50,133.66 340.75,133.38 341.00,133.11 341.25,132.84 341.50,132.59 341.75,132.34 342.00,132.11 342.25,131.88 342.50,131.66 342.75,131.44 343.00,131.24 343.25,131.04 343.50,130.84 343.75,130.66 344.00,130.47 344.25,130.30 344.50,130.13 344.75,129.96 345.00,129.80 345.25,129.65 345.50,129.50 345.75,129.35 346.00,129.21 346.25,129.07 346.50,128.94 346.75,128.81 347.00,128.68 347.25,128.56 347.50,128.44 347.75,128.33 348.00,128.22 348.25,128.11 348.50,128.01 348.75,127.90 349.00,127.80 349.25,127.71 349.50,127.62 349.75,127.53 350.00,127.44 350.25,127.35 350.50,127.27 350.75,127.19 351.00,127.12 351.25,127.04 351.50,126.97 351.75,126.90 352.00,126.83 352.25,126.77 352.50,126.70 352.75,126.64 353.00,126.58 353.25,126.53 353.50,126.47 353.75,126.42 354.00,126.37 354.25,126.32 354.50,126.27 354.75,126.22 355.00,126.18 355.25,126.14 355.50,126.10 355.75,126.06 356.00,126.02 356.25,125.99 356.50,125.95 356.75,125.92 357.00,125.89 357.25,125.86 357.50,125.83 357.75,125.80 358.00,125.78 358.25,125.76 358.50,125.73 358.75,125.71 359.00,125.69 359.25,125.68 359.50,125.66 359.75,125.64 360.00,125.63 360.25,125.61 360.50,125.58 360.75,125.56 361.00,125.54 361.25,125.52 361.50,125.50 361.75,125.49 362.00,125.47 362.25,125.46 362.50,125.44 362.75,125.43 363.00,125.42 363.25,125.41 363.50,125.40 363.75,125.40 364.00,125.39 364.25,125.38 364.50,125.38 364.75,125.37 365.00,125.37 365.25,125.37 365.50,125.37 365.75,125.37 366.00,125.37 366.25,125.37 366.50,125.38 366.75,125.38 367.00,125.39 367.25,125.39 367.50,125.40 367.75,125.41 368.00,125.42 368.25,125.43 368.50,125.44 368.75,125.45 369.00,125.46 369.25,125.48 369.50,125.49 369.75,125.51 370.00,125.52 370.25,125.54 370.50,125.56 370.75,125.58 371.00,125.60 371.25,125.62 371.50,125.64 371.75,125.66 372.00,125.68 372.25,125.71 372.50,125.73 372.75,125.76 373.00,125.78 373.25,125.81 373.50,125.84 373.75,125.86 374.00,125.89 374.25,125.92 374.50,125.95 374.75,125.99 375.00,126.02 375.25,126.05 375.50,126.08 375.75,126.12 376.00,126.15 376.25,126.19 376.50,126.23 376.75,126.26 377.00,126.30 377.25,126.34 377.50,126.38 377.75,126.42 378.00,126.46 378.25,126.51 378.50,126.55 378.75,126.59 379.00,126.64 379.25,126.68 379.50,126.73 379.75,126.77 380.00,126.82 380.25,126.87 380.50,126.92 380.75,126.97 381.00,127.02 381.25,127.07"/>
<g fill="#ff0000" shape-rendering="geometricPrecision">
<circle cx="64.47" cy="14.40" r="3.95"/>
<circle cx="70.94" cy="31.00" r="3.95"/>
<circle cx="77.41" cy="25.60" r="3.95"/>
<circle cx="83.88" cy="31.20" r="3.95"/>
<circle cx="90.35" cy="36.50" r="3.95"/>
<circle cx="96.82" cy="42.10" r="3.95"/>
<circle cx="103.29" cy="48.00" r="3.95"/>
<circle cx="109.76" cy="53.80" r="3.95"/>
<circle cx="116.23" cy="59.60" r="3.95"/>
<circle cx="122.70" cy="65.60" r="3.95"/>
<circle cx="129.17" cy="69.90" r="3.95"/>
</g><g fill="#ff0000">
<rect x="132" y="71" width="7" height="7"/>
<rect x="139" y="70" width="6" height="8"/>
<rect x="145" y="69" width="7" height="7"/>
<rect x="152" y="68" width="6" height="7"/>
<rect x="158" y="67" width="7" height="6"/>
<rect x="165" y="65" width="6" height="7"/>
<rect x="171" y="63" width="7" height="7"/>
<rect x="178" y="61" width="6" height="7"/>
<rect x="184" y="60" width="7" height="7"/>
<rect x="191" y="60" width="6" height="8"/>
<rect x="197" y="59" width="7" height="7"/>
<rect x="204" y="60" width="6" height="7"/>
<rect x="210" y="60" width="7" height="7"/>
<rect x="216" y="60" width="7" height="7"/>
<rect x="223" y="60" width="7" height="8"/>
<rect x="229" y="61" width="7" height="7"/>
<rect x="236" y="61" width="6" height="7"/>
<rect x="242" y="61" width="7" height="8"/>
<rect x="249" y="61" width="6" height="8"/>
<rect x="255" y="62" width="7" height="7"/>
<rect x="262" y="62" width="6" height="7"/>
<rect x="268" y="62" width="7" height="7"/>
<rect x="275" y="63" width="6" height="7"/>
<rect x="281" y="63" width="7" height="8"/>
<rect x="288" y="63" width="6" height="8"/>
<rect x="294" y="64" width="7" height="8"/>
<rect x="301" y="64" width="6" height="8"/>
<rect x="307" y="64" width="7" height="8"/>
<rect x="313" y="64" width="7" height="8"/>
<rect x="320" y="64" width="7" height="8"/>
<rect x="326" y="64" width="7" height="8"/>
<rect x="333" y="65" width="7" height="7"/>
<rect x="339" y="65" width="7" height="7"/>
<rect x="346" y="65" width="6" height="8"/>
<rect x="352" y="65" width="7" height="8"/>
<rect x="359" y="65" width="6" height="8"/>
<rect x="365" y="66" width="7" height="7"/>
</g>
</svg></body></html>
